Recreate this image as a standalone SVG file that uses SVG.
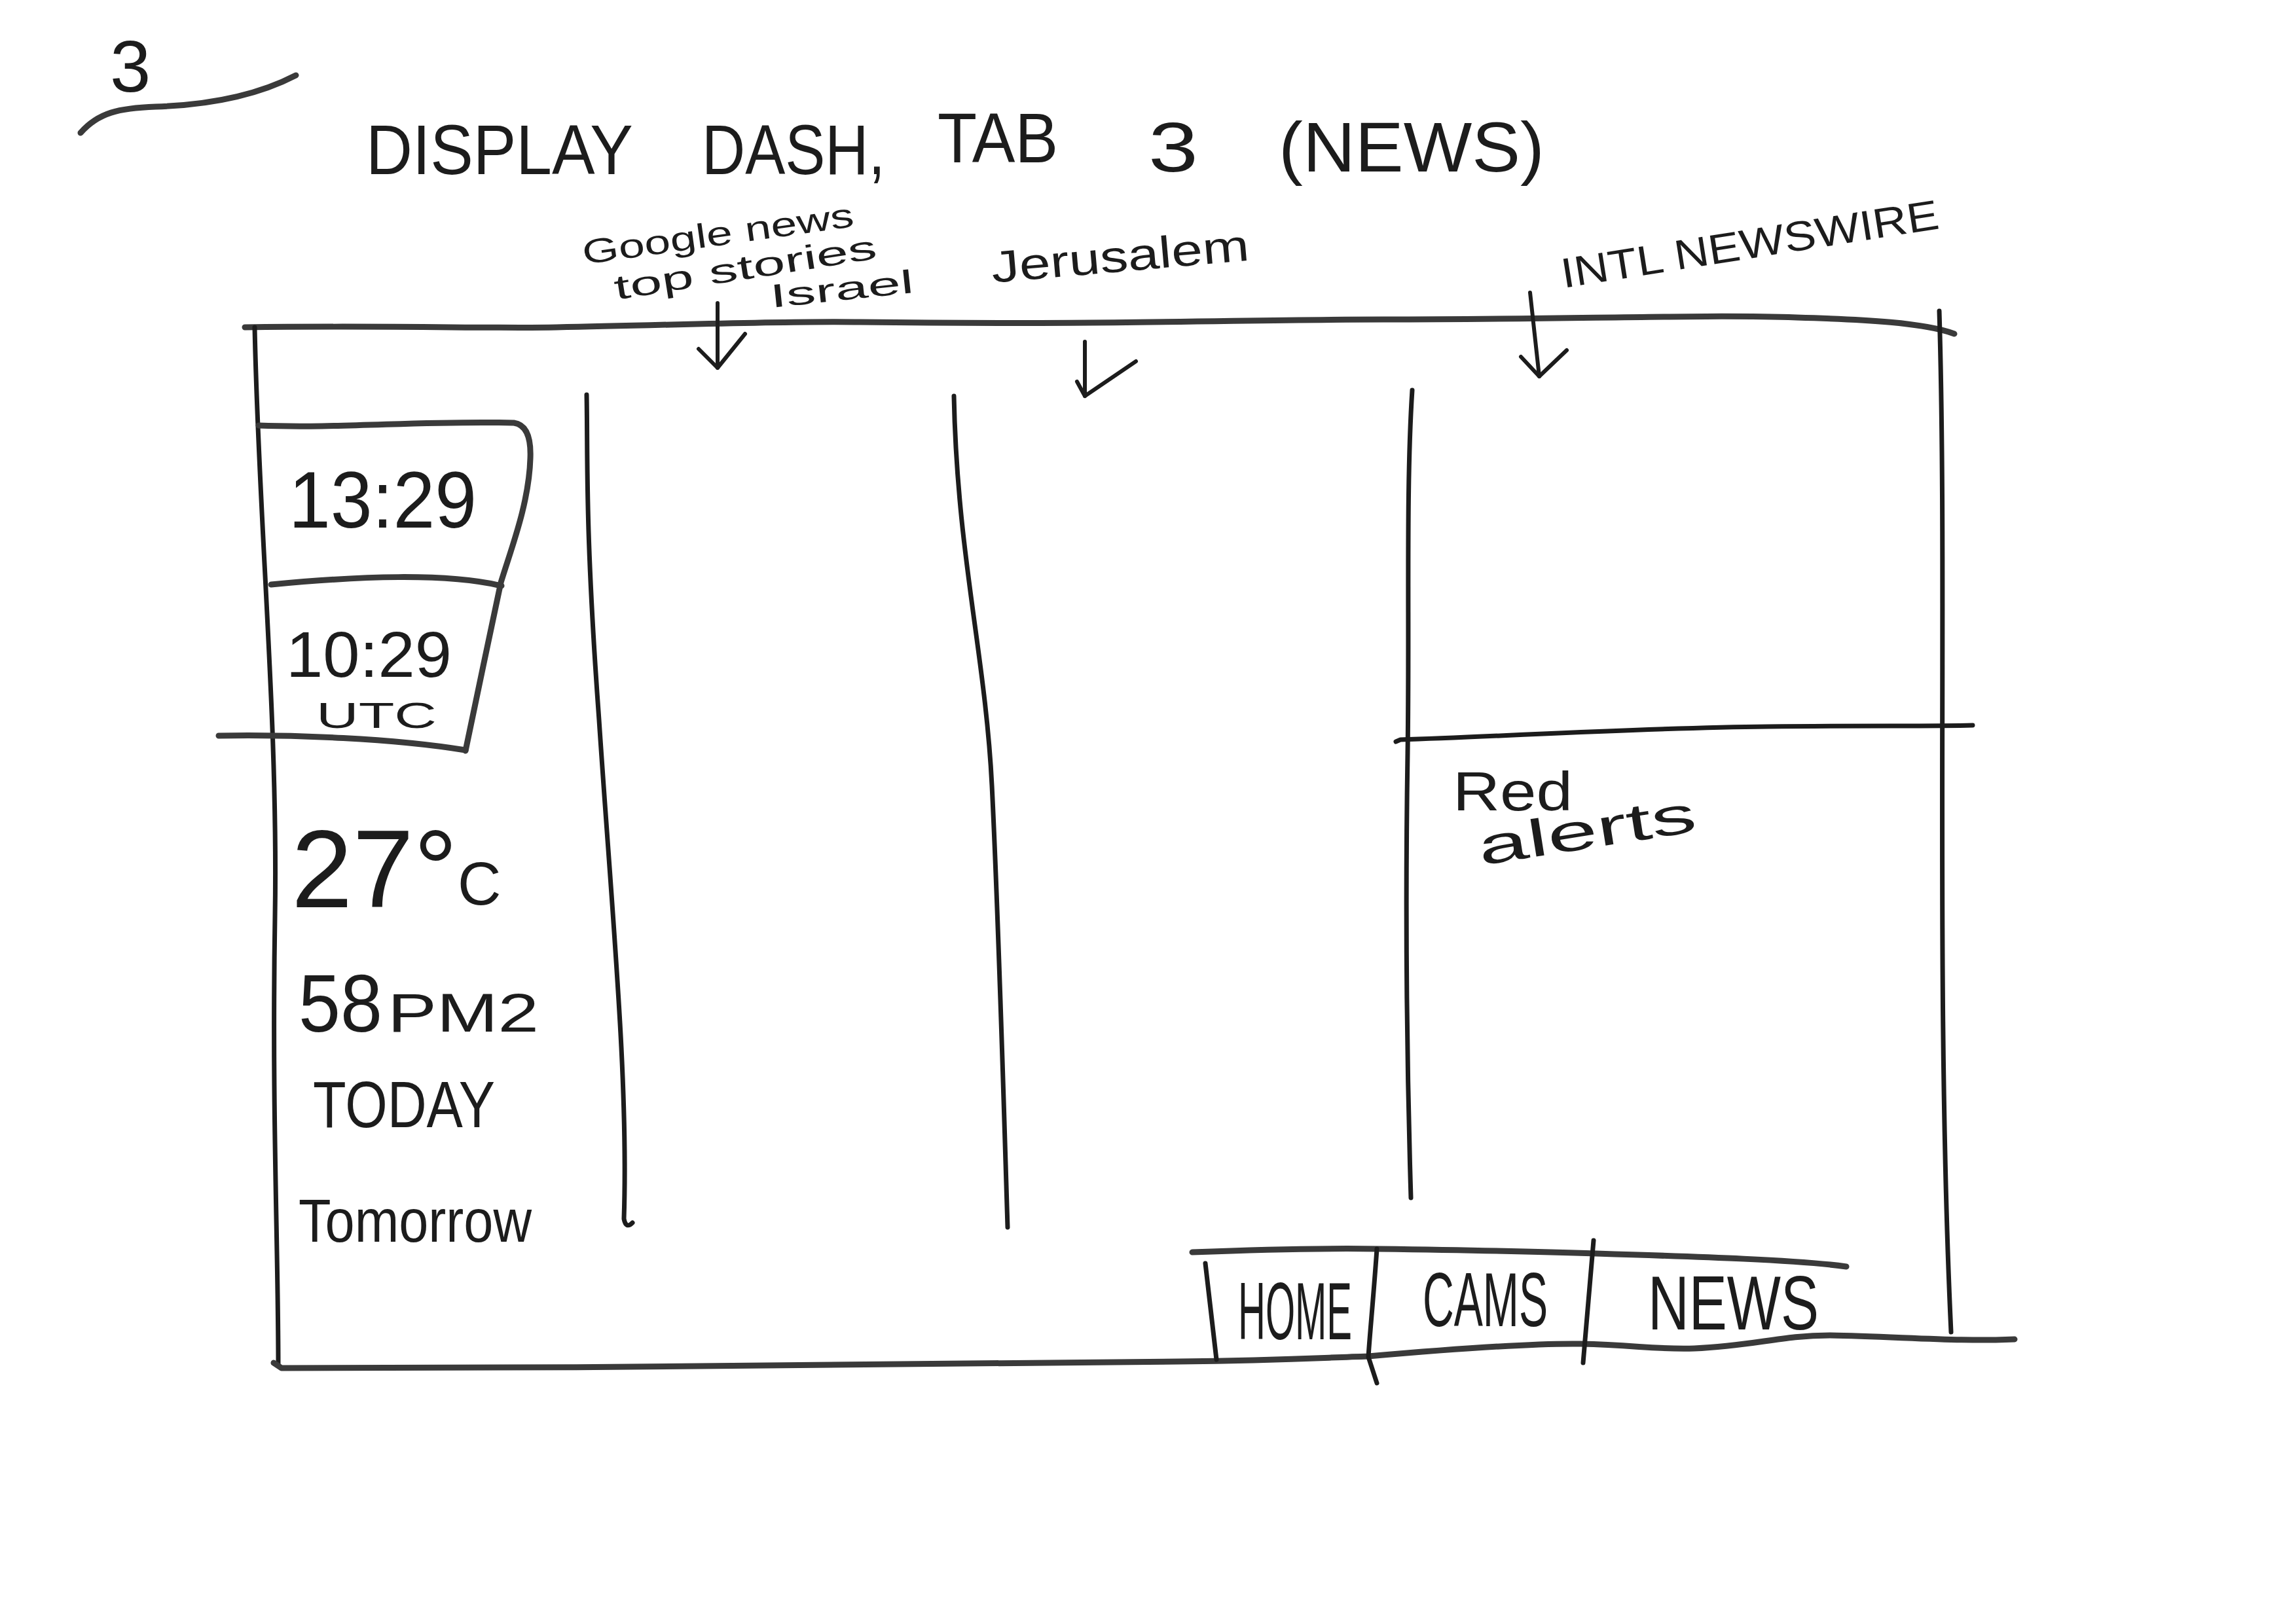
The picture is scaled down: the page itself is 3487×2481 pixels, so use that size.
<svg xmlns="http://www.w3.org/2000/svg" width="3487" height="2481" viewBox="0 0 3487 2481">
  <defs>
    <style>
      .ink { fill: none; stroke: #1c1c1c; stroke-width: 7; stroke-linecap: round; stroke-linejoin: round; }
      .soft { fill: none; stroke: #3a3a3a; stroke-width: 9; stroke-linecap: round; stroke-linejoin: round; }
      .arrow { fill: none; stroke: #1c1c1c; stroke-width: 6; stroke-linecap: round; stroke-linejoin: round; }
      .hand { font-family: "Liberation Sans", "DejaVu Sans", sans-serif; fill: #1c1c1c; }
    </style>
  </defs>

  <rect width="3487" height="2481" fill="#ffffff"/>

  <!-- page number -->
  <g id="page-number">
    <text class="hand" x="168" y="140" font-size="112">3</text>
    <path class="soft" d="M123,203 C150,172 182,165 238,163 C330,160 400,142 452,115"/>
  </g>

  <!-- heading -->
  <g id="title">
    <text class="hand" y="266" font-size="108">
      <tspan x="559" textLength="406" lengthAdjust="spacingAndGlyphs">DISPLAY</tspan>
      <tspan x="1072" textLength="280" lengthAdjust="spacingAndGlyphs">DASH,</tspan>
      <tspan x="1432" y="248" textLength="184" lengthAdjust="spacingAndGlyphs">TAB</tspan>
      <tspan x="1754" y="262" textLength="76" lengthAdjust="spacingAndGlyphs">3</tspan>
      <tspan x="1953" y="262" textLength="406" lengthAdjust="spacingAndGlyphs">(NEWS)</tspan>
    </text>
  </g>

  <!-- outer dashboard frame -->
  <g id="frame">
    <path class="soft" d="M374,500 C600,497 750,502 850,500 C1050,496 1200,490 1313,492 C1700,497 1900,488 2113,488 C2400,488 2600,480 2744,485 C2850,488 2940,493 2985,510"/>
    <path class="ink" d="M389,500 C395,800 425,1100 420,1400 C415,1700 425,1900 425,2085"/>
    <path class="soft" d="M418,2082 L430,2090 C900,2090 1500,2085 1800,2080 C1950,2078 2000,2075 2090,2072 C2250,2058 2350,2052 2414,2053 C2500,2055 2530,2062 2588,2060 C2680,2056 2720,2040 2795,2040 C2900,2042 3000,2050 3077,2046"/>
    <path class="ink" d="M2962,475 C2975,900 2955,1500 2980,2035"/>
  </g>

  <!-- news columns -->
  <g id="columns">
    <path class="ink" d="M896,603 C898,700 893,800 915,1100 C935,1400 960,1650 953,1862 Q956,1878 966,1868"/>
    <path class="ink" d="M1457,605 C1462,850 1505,1000 1515,1200 S1532,1650 1539,1875"/>
    <path class="ink" d="M2157,596 C2147,750 2153,950 2150,1150 C2146,1400 2148,1600 2155,1830"/>
    <path class="ink" d="M2132,1133 L2139,1130 C2300,1125 2500,1112 2700,1110 C2850,1108 2950,1110 3013,1108"/>
  </g>

  <!-- clock panel -->
  <g id="clock">
    <path class="soft" d="M395,650 C520,655 650,642 785,646 Q812,650 810,700 C808,770 780,840 765,890 C750,960 725,1080 711,1147"/>
    <path class="soft" d="M414,893 C550,880 680,875 766,895"/>
    <path class="soft" d="M334,1124 C450,1122 600,1128 711,1146"/>
    <text class="hand" x="441" y="806" font-size="122" textLength="287" lengthAdjust="spacingAndGlyphs">13:29</text>
    <text class="hand" x="437" y="1034" font-size="98" textLength="253" lengthAdjust="spacingAndGlyphs">10:29</text>
    <text class="hand" x="483" y="1112" font-size="56" textLength="184" lengthAdjust="spacingAndGlyphs">UTC</text>
  </g>

  <!-- weather panel -->
  <g id="weather">
    <text class="hand" x="445" y="1386" font-size="168">27°<tspan font-size="92" dy="-4">C</tspan></text>
    <text class="hand" y="1576" font-size="124"><tspan x="456" textLength="128" lengthAdjust="spacingAndGlyphs">58</tspan><tspan x="592" font-size="84" textLength="231" lengthAdjust="spacingAndGlyphs">PM2</tspan></text>
    <text class="hand" x="478" y="1722" font-size="100" textLength="278" lengthAdjust="spacingAndGlyphs">TODAY</text>
    <text class="hand" x="456" y="1897" font-size="92" textLength="356" lengthAdjust="spacingAndGlyphs">Tomorrow</text>
  </g>

  <!-- column source labels -->
  <g id="label-google">
    <text class="hand" font-size="52" transform="translate(892,404) rotate(-8)" textLength="418" lengthAdjust="spacingAndGlyphs">Google news</text>
    <text class="hand" font-size="52" transform="translate(941,458) rotate(-9)" textLength="405" lengthAdjust="spacingAndGlyphs">top stories</text>
    <text class="hand" font-size="50" transform="translate(1178,470) rotate(-6)" textLength="220" lengthAdjust="spacingAndGlyphs">Israel</text>
  </g>
  <g id="label-jerusalem">
    <text class="hand" font-size="68" transform="translate(1516,432) rotate(-5)" textLength="395" lengthAdjust="spacingAndGlyphs">Jerusalem</text>
  </g>
  <g id="label-newswire">
    <text class="hand" font-size="64" transform="translate(2388,440) rotate(-9)" textLength="583" lengthAdjust="spacingAndGlyphs">INTL NEWSWIRE</text>
  </g>

  <!-- alerts panel -->
  <g id="alerts">
    <text class="hand" x="2219" y="1238" font-size="84" textLength="183" lengthAdjust="spacingAndGlyphs">Red</text>
    <text class="hand" font-size="80" transform="translate(2262,1322) rotate(-9)" textLength="336" lengthAdjust="spacingAndGlyphs">alerts</text>
  </g>

  <!-- tab bar -->
  <g id="tabs">
    <path class="soft" d="M1821,1913 C1950,1908 2050,1907 2107,1908 C2250,1910 2350,1912 2438,1915 C2600,1920 2750,1925 2820,1935"/>
    <path class="ink" d="M1841,1930 L1858,2077"/>
    <path class="ink" d="M2103,1908 C2098,1980 2092,2040 2090,2073 L2103,2113"/>
    <path class="ink" d="M2434,1895 L2418,2082"/>
    <text class="hand" font-size="124" transform="translate(1891,2046) scale(0.468,1)">HOME</text>
    <text class="hand" x="2173" y="2026" font-size="116" textLength="191" lengthAdjust="spacingAndGlyphs">CAMS</text>
    <text class="hand" x="2517" y="2031" font-size="116" textLength="261" lengthAdjust="spacingAndGlyphs">NEWS</text>
  </g>

  <!-- arrows from source labels into columns -->
  <g id="connectors">
    <path class="arrow" d="M1096,463 L1096,562"/>
    <path class="arrow" d="M1067,533 L1096,562 L1138,510"/>
    <path class="arrow" d="M1657,522 L1657,605"/>
    <path class="arrow" d="M1645,583 L1657,605 L1735,552"/>
    <path class="arrow" d="M2337,447 L2351,575"/>
    <path class="arrow" d="M2323,545 L2351,575 L2393,535"/>
  </g>
</svg>
